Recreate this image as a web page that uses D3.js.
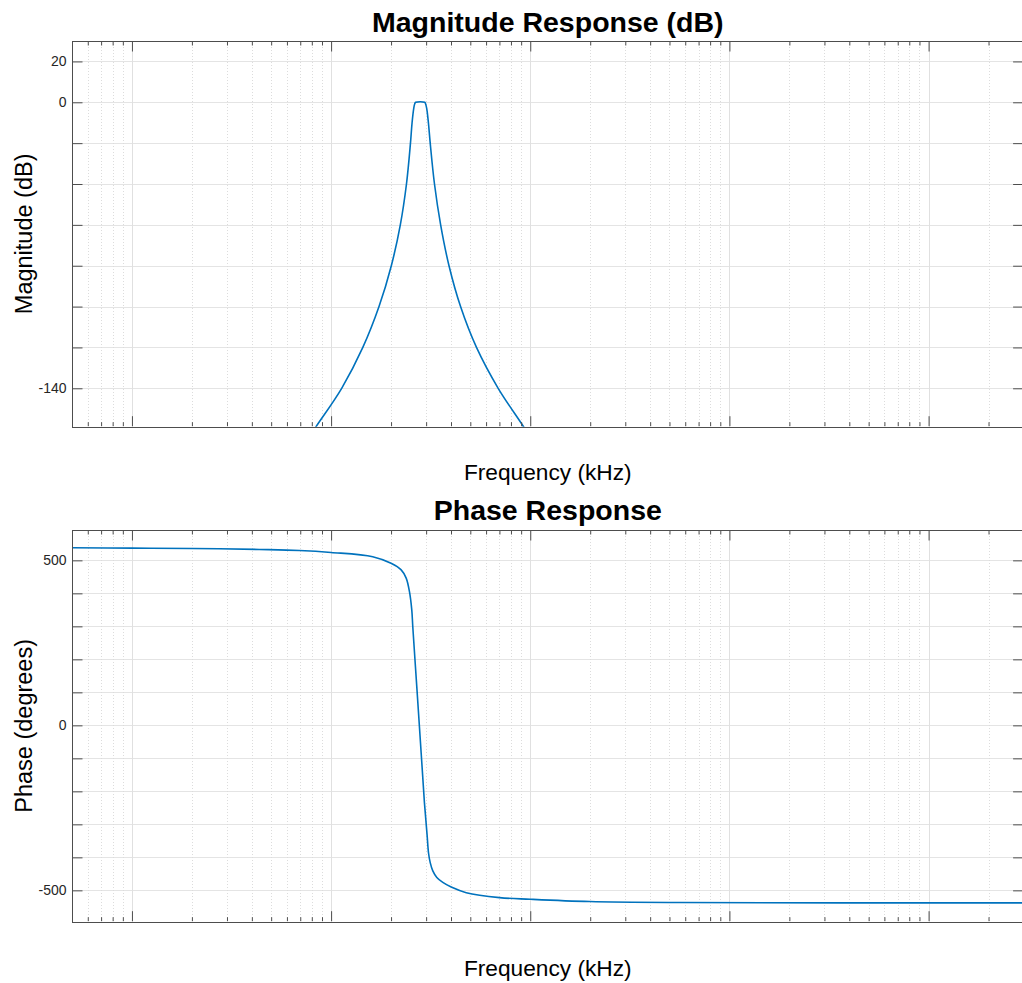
<!DOCTYPE html>
<html>
<head>
<meta charset="utf-8">
<script src="https://cdn.jsdelivr.net/npm/d3@7"></script>
<style>
  html, body { margin: 0; padding: 0; background: #fff; }
  svg { display: block; font-family: "Liberation Sans", Arial, Helvetica, sans-serif; }
</style>
</head>
<body>
<svg id="chart" width="1022" height="983"></svg>
<script>
// ---------------- data ----------------
const magFreqKHz = [0.78, 0.840, 1.130, 1.443, 1.740, 2.006, 2.226, 2.390, 2.503, 2.55, 2.60, 2.63, 2.66,
                    2.95, 2.98, 3.02, 3.08, 3.145, 3.304, 3.548, 3.908, 4.467, 5.370, 6.90, 9.25, 10.0];
const magDb      = [-163.6, -158.8, -140, -120, -100, -80, -60, -40, -20, -10, -3, -0.7, 0,
                    0, -0.7, -3, -10, -20, -40, -60, -80, -100, -120, -140, -158.8, -164.2];

const phaseFreqKHz = [0.05, 0.1, 0.201, 0.436, 0.693, 1.0, 1.618, 2.0, 2.248, 2.382, 2.474, 2.541, 2.571,
                      2.692, 2.832, 2.942, 3.036, 3.083, 3.145, 3.241, 3.395, 3.638, 4.009, 4.77, 7.01,
                      10, 19.86, 56.3, 3000];
const phaseDeg     = [538, 537, 536, 533, 530, 524, 511, 491, 471, 446, 405, 350, 299,
                      118, -83, -235, -335, -386, -416, -441, -461, -476, -490, -507, -522,
                      -527, -534, -537, -538];

const xDomainKHz = [0.05, 3000];
const xMajorTicks = [0.1, 1, 10, 100, 1000];

const magDomain = [-158.8, 30];
const magTicks = [20, 0, -20, -40, -60, -80, -100, -120, -140];
const magLabeled = [20, 0, -140];

const phaseDomain = [-595, 592];
const phaseTicks = [500, 400, 300, 200, 100, 0, -100, -200, -300, -400, -500];
const phaseLabeled = [500, 0, -500];

const titles = ["Magnitude Response (dB)", "Phase Response"];
const xLabel = "Frequency (kHz)";
const yLabels = ["Magnitude (dB)", "Phase (degrees)"];

// ---------------- layout ----------------
const svg = d3.select("#chart");
const left = 72, right = 1023.6;
const panels = [
  { top: 41, bottom: 426.7, title: titles[0], titleY: 31.5, xLabY: 479.5, ylab: yLabels[0],
    domain: magDomain, ticks: magTicks, labeled: magLabeled, xs: magFreqKHz, ys: magDb },
  { top: 530, bottom: 921.7, title: titles[1], titleY: 520, xLabY: 975.5, ylab: yLabels[1],
    domain: phaseDomain, ticks: phaseTicks, labeled: phaseLabeled, xs: phaseFreqKHz, ys: phaseDeg }
];

const x = d3.scaleLog().domain(xDomainKHz).range([left, right]);

// minor ticks 2..9 per decade inside the domain
const xMinorTicks = [];
for (let e = -2; e <= 3; e++) {
  for (let m = 2; m <= 9; m++) {
    const v = m * Math.pow(10, e);
    if (v > xDomainKHz[0] * 1.0001 && v < xDomainKHz[1] * 0.9999) xMinorTicks.push(+v.toPrecision(3));
  }
}

const axisColor = "#4d4d4d";
const textColor = "#262626";
const lineColor = "#0072BD";

svg.append("defs").selectAll("clipPath").data(panels).join("clipPath")
  .attr("id", (d, i) => "clip" + i)
  .append("rect")
  .attr("x", left).attr("y", d => d.top)
  .attr("width", right - left).attr("height", d => d.bottom - d.top);

panels.forEach((p, i) => {
  const y = d3.scaleLinear().domain(p.domain).range([p.bottom, p.top]);
  const g = svg.append("g");

  // grid: horizontal
  g.append("g").selectAll("line").data(p.ticks).join("line")
    .attr("x1", left).attr("x2", right)
    .attr("y1", d => Math.round(y(d)) + 0.5).attr("y2", d => Math.round(y(d)) + 0.5)
    .attr("stroke", "#e4e4e4").attr("stroke-width", 1);
  // grid: minor vertical (dotted)
  g.append("g").selectAll("line").data(xMinorTicks).join("line")
    .attr("x1", d => Math.round(x(d)) + 0.5).attr("x2", d => Math.round(x(d)) + 0.5)
    .attr("y1", p.top).attr("y2", p.bottom)
    .attr("stroke", "#dcdcdc").attr("stroke-width", 1).attr("stroke-dasharray", "1,2");
  // grid: major vertical
  g.append("g").selectAll("line").data(xMajorTicks).join("line")
    .attr("x1", d => Math.round(x(d)) + 0.5).attr("x2", d => Math.round(x(d)) + 0.5)
    .attr("y1", p.top).attr("y2", p.bottom)
    .attr("stroke", "#e0e0e0").attr("stroke-width", 1);

  // data line
  const line = d3.line()
    .x((d, k) => x(p.xs[k]))
    .y((d, k) => y(p.ys[k]))
    .curve(d3.curveCatmullRom.alpha(0.5));
  g.append("path")
    .attr("clip-path", `url(#clip${i})`)
    .attr("d", line(p.xs))
    .attr("fill", "none")
    .attr("stroke", lineColor)
    .attr("stroke-width", 1.6)
    .attr("stroke-linejoin", "round");

  // axes (ticks inward)
  const styleAxis = sel => {
    sel.select(".domain").remove();
    sel.selectAll(".tick line").attr("stroke", axisColor).attr("stroke-width", 1);
    sel.selectAll(".tick text").attr("fill", textColor).attr("font-size", 14)
      .attr("font-family", "'Liberation Sans', Arial, Helvetica, sans-serif");
  };
  const fmt = d => (p.labeled.includes(d) ? String(d) : "");

  g.append("g").attr("transform", `translate(${left + 0.5},0)`)
    .call(d3.axisLeft(y).tickValues(p.ticks).tickSizeInner(-10).tickSizeOuter(0).tickPadding(6).tickFormat(fmt))
    .call(styleAxis);
  g.append("g").attr("transform", `translate(${right - 0.5},0)`)
    .call(d3.axisRight(y).tickValues(p.ticks).tickSizeInner(-10).tickSizeOuter(0).tickFormat(() => ""))
    .call(styleAxis);

  [[xMajorTicks, 10], [xMinorTicks, 4]].forEach(([tv, sz]) => {
    g.append("g").attr("transform", `translate(0,${p.bottom - 0.5})`)
      .call(d3.axisBottom(x).tickValues(tv).tickSizeInner(-sz).tickSizeOuter(0).tickFormat(() => ""))
      .call(styleAxis);
    g.append("g").attr("transform", `translate(0,${p.top + 0.5})`)
      .call(d3.axisTop(x).tickValues(tv).tickSizeInner(-sz).tickSizeOuter(0).tickFormat(() => ""))
      .call(styleAxis);
  });

  // box
  g.append("rect")
    .attr("x", left + 0.5).attr("y", Math.round(p.top) + 0.5)
    .attr("width", right - left).attr("height", Math.round(p.bottom) - Math.round(p.top))
    .attr("fill", "none").attr("stroke", axisColor).attr("stroke-width", 1);

  // title
  svg.append("text")
    .attr("x", (left + right) / 2).attr("y", p.titleY)
    .attr("text-anchor", "middle")
    .attr("font-size", 28.5).attr("font-weight", "bold").attr("fill", "#000")
    .text(p.title);

  // x label
  svg.append("text")
    .attr("x", (left + right) / 2).attr("y", p.xLabY)
    .attr("text-anchor", "middle")
    .attr("font-size", 22.7).attr("fill", "#000")
    .text(xLabel);

  // y label
  svg.append("text")
    .attr("transform", `translate(31.5,${(p.top + p.bottom) / 2}) rotate(-90)`)
    .attr("text-anchor", "middle")
    .attr("font-size", 23.5).attr("fill", "#000")
    .text(p.ylab);
});
</script>
</body>
</html>
